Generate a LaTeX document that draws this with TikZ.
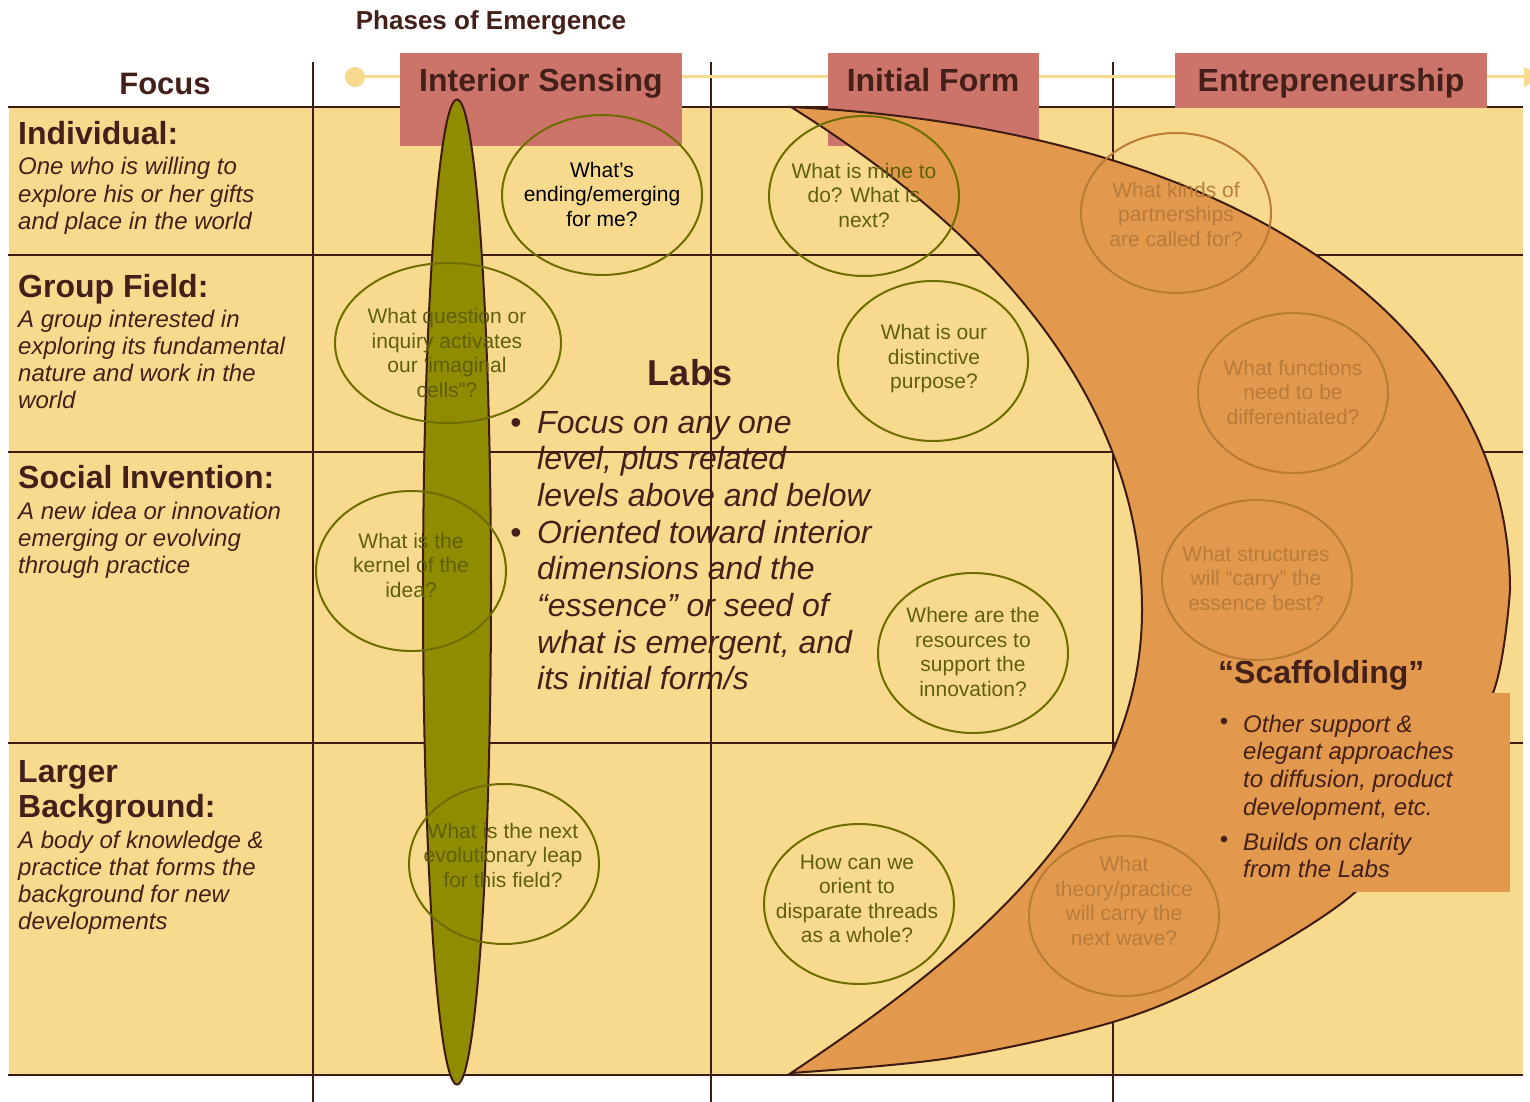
\documentclass[tikz,border=0pt]{standalone}
\usepackage{fontspec}
\setmainfont{Liberation Sans}
\usetikzlibrary{shapes.geometric}
\definecolor{cell}{HTML}{F8DA8F}
\definecolor{gridc}{HTML}{3E1B13}
\definecolor{hdr}{HTML}{43201A}
\definecolor{redbox}{HTML}{CD746A}
\definecolor{stemfill}{HTML}{8F8C00}
\definecolor{cresc}{HTML}{E3994D}
\definecolor{olivel}{HTML}{6E6E00}
\definecolor{olivet}{HTML}{60600A}
\definecolor{orl}{HTML}{BA7B35}
\definecolor{ort}{HTML}{B97B3B}
\newcommand{\mlines}[1]{\begin{tabular}[t]{@{}l@{}}#1\end{tabular}}
\tikzset{
  gridline/.style={draw=gridc, line width=2.2pt},
  phasebox/.style={fill=redbox, draw=none},
  phasetext/.style={anchor=base, inner sep=0, font=\bfseries\fontsize{32}{36}\selectfont, text=hdr},
  heading/.style={anchor=base west, inner sep=0, font=\bfseries\fontsize{32}{35}\selectfont, text=hdr},
  desc/.style={anchor=base west, inner sep=0, font=\itshape\fontsize{24}{27.3}\selectfont, text=hdr},
  labsdesc/.style={anchor=base west, inner sep=0, font=\itshape\fontsize{32}{36.7}\selectfont, text=hdr},
  scafdesc/.style={anchor=base west, inner sep=0, font=\itshape\fontsize{24}{27.7}\selectfont, text=hdr},
  bulletmark/.style={anchor=base, inner sep=0, text=hdr},
  bubble/.style={ellipse, draw=olivel, line width=2pt, inner sep=0, minimum width=190, minimum height=160},
  obubble/.style={bubble, draw=orl},
  qtext/.style={align=center, inner sep=0, font=\fontsize{21}{24.5}\selectfont, text=olivet},
  oqtext/.style={qtext, text=ort},
}
\begin{document}
\begin{tikzpicture}[x=1pt,y=-1pt]
\useasboundingbox (0,0) rectangle (1530,1102);
\clip (0,0) rectangle (1530,1102);
\fill[white] (0,0) rectangle (1530,1102);
% cells
\fill[cell] (9,107) rectangle (1523,1075);

% Labs text (under grid lines)
\node[anchor=base, inner sep=0, font=\bfseries\fontsize{36}{40}\selectfont, text=hdr] (labs) at (690,385) {Labs};
\node[bulletmark, font=\fontsize{32}{36}\selectfont] (lb1) at (516,433) {•};
\node[labsdesc] (lt1) at (537,433) {\mlines{Focus on any one\\level, plus related\\levels above and below}};
\node[bulletmark, font=\fontsize{32}{36}\selectfont] (lb2) at (516,543) {•};
\node[labsdesc] (lt2) at (537,543) {\mlines{Oriented toward interior\\dimensions and the\\“essence” or seed of\\what is emergent, and\\its initial form/s}};

% grid
\foreach \yy in {107,255,452,743,1075} \draw[gridline] (8,\yy) -- (1523,\yy);
\foreach \xx in {313,711,1113} \draw[gridline] (\xx,62) -- (\xx,1102);

% timeline
\node[circle, fill=cell, inner sep=0, minimum size=20] (tdot) at (355,77) {};
\coordinate (tend) at (1524,77);
\draw[cell, line width=3pt] (tdot) -- (tend);
\fill[cell] (1524,67) -- (1542,77) -- (1524,87) -- cycle;

% phase headers
\node[anchor=base, inner sep=0, font=\bfseries\fontsize{26}{30}\selectfont, text=hdr] (phases) at (491,30) {Phases of Emergence};
\node[anchor=base, inner sep=0, font=\bfseries\fontsize{31}{35}\selectfont, text=hdr] (focus) at (165,95) {Focus};
\fill[phasebox] (400,53) rectangle (682,146);
\fill[phasebox] (828,53) rectangle (1039,146);
\fill[phasebox] (1175,53) rectangle (1487,108);
\node[phasetext] (ph1) at (541,92) {Interior Sensing};
\node[phasetext] (ph2) at (933,92) {Initial Form};
\node[phasetext] (ph3) at (1331,92) {Entrepreneurship};

% focus column
\node[heading] (h1) at (18,145) {Individual:};
\node[desc] (d1) at (18,175) {\mlines{One who is willing to\\explore his or her gifts\\and place in the world}};
\node[heading] (h2) at (18,297) {Group Field:};
\node[desc] (d2) at (18,327) {\mlines{A group interested in\\exploring its fundamental\\nature and work in the\\world}};
\node[heading] (h3) at (18,488) {Social Invention:};
\node[desc] (d3) at (18,519) {\mlines{A new idea or innovation\\emerging or evolving\\through practice}};
\node[heading] (h4) at (18,782) {\mlines{Larger\\Background:}};
\node[desc] (d4) at (18,848) {\mlines{A body of knowledge \&\\practice that forms the\\background for new\\developments}};

% green stem
\node[ellipse, draw=gridc, fill=stemfill, line width=2pt, inner sep=0, minimum width=68, minimum height=985] (stem) at (457,592) {};

% crescent
\draw[fill=cresc, draw=gridc, line width=2pt, line join=miter]
  (791,107) .. controls (1250,130) and (1510,330) .. (1510,590)
  -- plot[smooth, tension=0.55] coordinates {(1510,590) (1493,693) (1430,800) (1352,895) (1220,977) (1113,1022) (950,1058) (791,1073)}
  .. controls (960,960) and (1142,820) .. (1142,610)
  .. controls (1142,420) and (1020,250) .. (791,107) -- cycle;

% scaffolding
\fill[cresc] (1205,693) rectangle (1510,892);
\node[heading] (scaf) at (1218,683) {“Scaffolding”};
\node[bulletmark, font=\fontsize{24}{27}\selectfont] (sb1) at (1224,729) {•};
\node[scafdesc] (st1) at (1243,732) {\mlines{Other support \&\\elegant approaches\\to diffusion, product\\development, etc.}};
\node[bulletmark, font=\fontsize{24}{27}\selectfont] (sb2) at (1224,847) {•};
\node[scafdesc] (st2) at (1243,850) {\mlines{Builds on clarity\\from the Labs}};

% bubbles
\node[bubble, minimum width=200] (b1) at (602,195) {};
\node[qtext, text=black] (q1) at (602,194) {What’s\\ending/emerging\\for me?};
\node[bubble] (b2) at (864,196) {};
\node[qtext] (q2) at (864,195) {What is mine to\\do? What is\\next?};
\node[obubble] (b3) at (1176,213) {};
\node[oqtext] (q3) at (1176,214) {What kinds of\\partnerships\\are called for?};
\node[bubble, minimum width=226] (b4) at (448,343) {};
\node[qtext] (q4) at (447,353) {What question or\\inquiry activates\\our ‘imaginal\\cells”?};
\node[bubble] (b5) at (933,361) {};
\node[qtext] (q5) at (934,359) {What is our\\distinctive\\purpose?};
\node[obubble] (b6) at (1293,393) {};
\node[oqtext] (q6) at (1293,392) {What functions\\need to be\\differentiated?};
\node[bubble] (b7) at (411,571) {};
\node[qtext] (q7) at (411,565) {What is the\\kernel of the\\idea?};
\node[obubble] (b8) at (1257,580) {};
\node[oqtext] (q8) at (1256,578) {What structures\\will “carry” the\\essence best?};
\node[bubble] (b9) at (973,653) {};
\node[qtext] (q9) at (973,652) {Where are the\\resources to\\support the\\innovation?};
\node[bubble] (b10) at (504,864) {};
\node[qtext] (q10) at (503,855) {What is the next\\evolutionary leap\\for this field?};
\node[bubble] (b11) at (859,904) {};
\node[qtext] (q11) at (857,899) {How can we\\orient to\\disparate threads\\as a whole?};
\node[obubble] (b12) at (1124,916) {};
\node[oqtext] (q12) at (1124,901) {What\\theory/practice\\will carry the\\next wave?};
\end{tikzpicture}
\end{document}
